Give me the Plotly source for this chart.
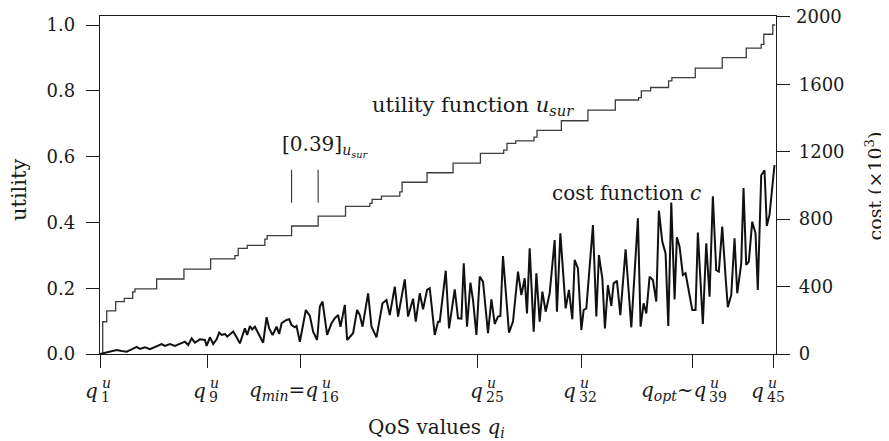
import plotly.graph_objects as go

# ---------------- data ----------------
# QoS axis (arbitrary QoS units)
util_x = [0, 2.7, 6.7, 15.7, 24.3, 32.7, 35, 56.7, 84, 110.7, 135, 138.3, 147.3, 165, 167.3,
          191.7, 218.3, 245.7, 270, 272.3, 281.7, 300, 302.3, 327.3, 353.3, 380.7, 404, 407.3,
          416, 434.3, 437.3, 461.7, 488.3, 515.7, 539, 541.7, 551, 569, 572.3, 595.7, 622.7,
          646.7, 661.7, 664.3, 673.3, 675.7]
util_y = [0, .098, .131, .159, .169, .189, .198, .228, .258, .289, .299, .321, .330, .349, .360,
          .389, .419, .449, .458, .470, .480, .493, .522, .551, .580, .610, .620, .640, .648,
          .659, .680, .709, .741, .772, .779, .800, .810, .830, .840, .869, .901, .930, .941,
          .972, 1.0, 1.0]

cost_x = [0, 5, 10, 16.7, 21.7, 26.7, 31.7, 36.7, 40, 45, 50, 56.7, 61.7, 65, 70, 75, 80, 85,
          88.3, 91.7, 95, 100, 105, 106.7, 110, 113.3, 116.7, 119.3, 121.7, 125, 127.3, 133.3,
          136.7, 140, 145, 147.3, 150, 152.3, 155, 158.3, 163.3, 166.7, 169.3, 172.7, 176.7,
          179.3, 181.7, 184, 186.7, 189.3, 191.7, 195, 196.7, 200, 206, 210, 213.3, 217.3, 220,
          222.7, 225, 227.3, 231.7, 235, 238.3, 240.7, 245, 247.3, 253.3, 257.3, 260, 262.7,
          268.3, 271.7, 276.7, 282.7, 286.7, 290, 295, 298.3, 305, 308.3, 313.3, 316, 320,
          323.3, 327.3, 330, 335, 338.3, 340, 346, 349.3, 355, 358.3, 361.7, 364, 367.3, 370.7,
          373.3, 376.7, 380, 383.3, 388.3, 391.7, 395, 398.3, 400.7, 403.3, 409.3, 413.3,
          418.3, 421.7, 425, 427.3, 430, 434, 436.7, 440, 442.7, 446, 450, 455, 457.3, 460.7,
          466, 469.3, 472.7, 475, 478.3, 481.7, 484, 486.7, 493.3, 496.7, 499.3, 502.7, 505.3,
          508.3, 511.7, 514, 517.3, 520.7, 526, 531.7, 538.3, 541, 544, 546.7, 550, 553.3,
          556.7, 559.3, 562.7, 566, 568.7, 571.7, 575, 577.3, 580, 583.3, 586, 592.7, 596,
          598.3, 603.3, 606.7, 610, 613.3, 616.7, 619.3, 622.7, 626, 628.3, 631.7, 635, 637.7,
          641.7, 644, 646.7, 649.3, 652.7, 656, 658.3, 661.7, 665, 667.3, 670, 675]
cost_y = [0, 8, 12, 24, 18, 14, 28, 42, 30, 40, 28, 44, 59, 48, 59, 48, 59, 73, 53, 93, 67,
          87, 83, 48, 99, 59, 87, 127, 113, 119, 103, 133, 99, 63, 152, 113, 166, 146, 162,
          123, 67, 218, 152, 113, 162, 119, 182, 192, 202, 206, 172, 158, 166, 73, 261, 226,
          133, 83, 281, 311, 202, 113, 182, 212, 231, 162, 291, 83, 123, 261, 231, 162, 360,
          162, 99, 301, 320, 231, 400, 222, 443, 222, 328, 192, 360, 265, 380, 390, 113, 192,
          192, 494, 152, 384, 212, 210, 538, 162, 423, 320, 113, 459, 429, 123, 324, 178, 222,
          226, 581, 127, 192, 489, 350, 449, 241, 627, 133, 479, 192, 370, 251, 360, 676, 251,
          716, 271, 380, 206, 558, 508, 142, 261, 271, 765, 222, 587, 449, 152, 409, 285, 419,
          435, 231, 621, 158, 805, 162, 301, 241, 459, 439, 311, 850, 667, 597, 166, 898, 324,
          692, 637, 469, 479, 261, 261, 720, 178, 657, 340, 935, 498, 489, 756, 459, 277, 350,
          686, 360, 538, 985, 528, 548, 785, 716, 380, 1060, 1090, 760, 825, 1120]

tick_vals = [0.7, 107.7, 200.7, 377.3, 482.3, 592.7, 674]
tick_main = ["<i>q</i>", "<i>q</i>", "<i>q</i><sub><i>min</i></sub>=<i>q</i>", "<i>q</i>",
             "<i>q</i>", "<i>q</i><sub><i>opt</i></sub>~<i>q</i>", "<i>q</i>"]
tick_sub = ["1", "9", "16", "25", "32", "39", "45"]
tick_split = [-0.7, 0.6, 19.3, 7.7, -4, 15.6, -8]   # px offset of the q/index junction

util_ticks = [0, 0.2, 0.4, 0.6, 0.8, 1.0]
util_ticktext = ["0.0", "0.2", "0.4", "0.6", "0.8", "1.0"]
cost_ticks = [0, 400, 800, 1200, 1600, 2000]
cost_ticktext = ["0", "400", "800", "1200", "1600", ""]
marker_span = [0.46, 0.56]
marker_steps = [15, 16]

FONT = "DejaVu Serif"
FS = 18      # tick labels
FT = 21      # titles / in-plot labels
INK = "#1a1a1a"
BODY = 8     # page body margin offset

fig = go.Figure()
fig.add_trace(go.Scatter(x=util_x, y=util_y, mode="lines", line=dict(shape="hv", color="#3d3d3d", width=1.3),
                         showlegend=False, hoverinfo="skip"))
fig.add_trace(go.Scatter(x=cost_x, y=cost_y, mode="lines", line=dict(color="#111111", width=2),
                         yaxis="y2", showlegend=False, hoverinfo="skip"))

axis_common = dict(showgrid=False, zeroline=False, showline=True, linecolor=INK, linewidth=1.3,
                   ticks="outside", ticklen=13, tickwidth=1.2, tickcolor=INK, automargin=False,
                   tickfont=dict(family=FONT, size=FS, color=INK))

fig.update_layout(
    width=889, height=441,
    margin=dict(l=100 - BODY, r=889 - (100 - BODY) - 676.5, t=16 - BODY, b=441 - (16 - BODY) - 338),
    plot_bgcolor="white", paper_bgcolor="white",
    xaxis=dict(range=[0, 676.5], tickvals=tick_vals, showticklabels=False,
               mirror=True, **axis_common),
    yaxis=dict(range=[0, 1.0274], tickvals=util_ticks, ticktext=util_ticktext,
               ticklabelstandoff=7, **axis_common),
    yaxis2=dict(range=[0, 2005], tickvals=cost_ticks, ticktext=cost_ticktext, overlaying="y",
                side="right", ticklabelstandoff=5, **axis_common),
)

ann = []
def A(**kw):
    base = dict(showarrow=False, font=dict(family=FONT, size=FT, color=INK))
    base.update(kw)
    ann.append(base)

def py(p):  # page pixel y -> paper y
    return (354 - p) / 338

def px(p):  # page pixel x -> paper x
    return (p - 100) / 676.5

# top label of the cost axis (kept as an annotation so it is not dropped at the edge)
A(x=1, y=cost_ticks[-1], xref="paper", yref="y2", text=str(cost_ticks[-1]), xanchor="left",
  yanchor="middle", xshift=18, font=dict(family=FONT, size=FS, color=INK))

SMALL = dict(family=FONT, size=14, color=INK)
for xv, m, s, sp in zip(tick_vals, tick_main, tick_sub, tick_split):
    A(x=xv, y=py(391), xref="x", yref="paper", text=m, xanchor="right", yanchor="middle", xshift=sp,
      font=dict(family=FONT, size=20, color=INK))
    A(x=xv, y=py(383), xref="x", yref="paper", text="<i>u</i>", xanchor="left", yanchor="middle",
      xshift=sp, font=SMALL)
    A(x=xv, y=py(397), xref="x", yref="paper", text=s, xanchor="left", yanchor="middle",
      xshift=sp - 1, font=SMALL)

# axis titles
A(x=px(437), y=py(428), xref="paper", yref="paper", text="QoS values <i>q</i><sub><i>i</i></sub>",
  xanchor="center", yanchor="middle", font=dict(family=FONT, size=20, color=INK))
A(x=px(19), y=py(190), xref="paper", yref="paper", text="utility", textangle=-90,
  xanchor="center", yanchor="middle")
A(x=px(875), y=py(186), xref="paper", yref="paper", text="cost (×10<sup>3</sup>)",
  textangle=-90, xanchor="center", yanchor="middle", font=dict(family=FONT, size=19, color=INK))

# in-plot labels
A(x=270, y=py(106), xref="x", yref="paper", text="utility function <i>u</i><sub><i>sur</i></sub>",
  xanchor="left", yanchor="middle")
A(x=450, y=py(193), xref="x", yref="paper", text="cost function <i>c</i>", xanchor="left", yanchor="middle",
  font=dict(family=FONT, size=20, color=INK))
A(x=180, y=py(146), xref="x", yref="paper", text="[0.39]<sub><i>u<sub>sur</sub></i></sub>",
  xanchor="left", yanchor="middle", font=dict(family=FONT, size=20, color=INK))

fig.update_layout(annotations=ann)

shapes = []
for k in marker_steps:
    shapes.append(dict(type="line", xref="x", yref="y", x0=util_x[k], x1=util_x[k],
                       y0=marker_span[0], y1=marker_span[1], line=dict(color="#333333", width=1.1)))
fig.update_layout(shapes=shapes)

fig.write_html("out.html")
